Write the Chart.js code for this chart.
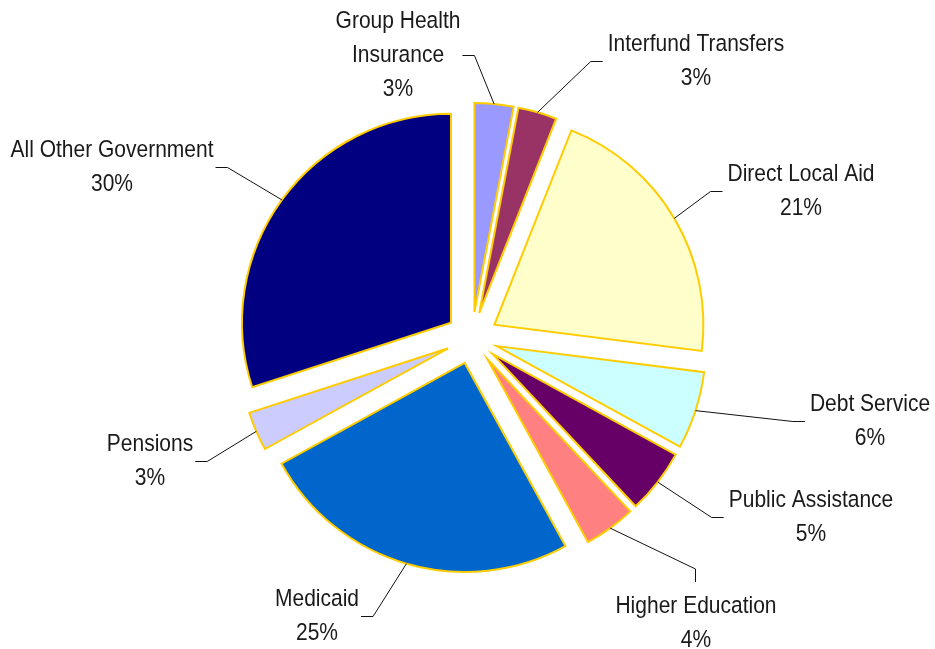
<!DOCTYPE html>
<html>
<head>
<meta charset="utf-8">
<title>Spending by category</title>
<script src="https://cdn.jsdelivr.net/npm/chart.js@4"></script>
<style>
  html, body { margin: 0; padding: 0; background: #fff; }
  canvas { display: block; }
</style>
</head>
<body>
<canvas id="spendingPie" width="935" height="649"></canvas>
<script>
// categories clockwise from 12 o'clock
const categories = [
  'Group Health Insurance', 'Interfund Transfers', 'Direct Local Aid',
  'Debt Service', 'Public Assistance', 'Higher Education',
  'Medicaid', 'Pensions', 'All Other Government'
];
const labelLines = [
  ['Group Health', 'Insurance'], ['Interfund Transfers'], ['Direct Local Aid'],
  ['Debt Service'], ['Public Assistance'], ['Higher Education'],
  ['Medicaid'], ['Pensions'], ['All Other Government']
];
const shares = [3, 3, 21, 6, 5, 4, 25, 3, 30];

const sliceColors = [
  '#9999FF', '#993366', '#FFFFCC', '#CCFFFF', '#660066',
  '#FF8080', '#0066CC', '#CCCCFF', '#000080'
];

// label block centre + which side the leader line comes in from
const labelSpots = [
  [398, 55, 'right'],
  [696, 61, 'left'],
  [801, 191, 'left'],
  [870, 421, 'left'],
  [811, 517, 'left'],
  [696, 623, 'top'],
  [317, 616, 'right'],
  [150, 461, 'right'],
  [112, 167, 'right']
];

const EXPLODE = 26;
const LINE_H = 34;
const TEXT_STRETCH = 1.12; // original labels are a bit taller than Liberation Sans

// push every slice out along its mid angle (same distance for all, like Excel)
const explodePlugin = {
  id: 'explode',
  afterUpdate(chart) {
    chart.getDatasetMeta(0).data.forEach(arc => {
      const mid = (arc.startAngle + arc.endAngle) / 2;
      arc.x += Math.cos(mid) * EXPLODE;
      arc.y += Math.sin(mid) * EXPLODE;
    });
  }
};

const labelPlugin = {
  id: 'sliceLabels',
  afterDatasetsDraw(chart) {
    const ctx = chart.ctx;
    const arcs = chart.getDatasetMeta(0).data;
    ctx.save();
    ctx.font = '21px "Liberation Sans", Arial, sans-serif';
    ctx.fillStyle = '#1a1a1a';
    ctx.strokeStyle = '#111';
    ctx.lineWidth = 1;
    ctx.textAlign = 'center';
    ctx.textBaseline = 'alphabetic';

    arcs.forEach((arc, i) => {
      const lines = labelLines[i].concat(shares[i] + '%');
      const [cx, cy, side] = labelSpots[i];
      const mid = (arc.startAngle + arc.endAngle) / 2;
      const ax = arc.x + Math.cos(mid) * arc.outerRadius;
      const ay = arc.y + Math.sin(mid) * arc.outerRadius;
      const w = Math.max(...lines.map(t => ctx.measureText(t).width));
      const firstBase = cy + 7 - (lines.length - 1) * LINE_H / 2;

      let elbow, tickEnd;
      if (side === 'left') {
        elbow = [cx - w / 2 - 17, cy + 0.5];
        tickEnd = [cx - w / 2 - 5, cy + 0.5];
      } else if (side === 'right') {
        elbow = [cx + w / 2 + 14, cy + 0.5];
        tickEnd = [cx + w / 2 + 2, cy + 0.5];
      } else {
        const top = firstBase - 17;
        elbow = [cx - 0.5, top - 27];
        tickEnd = [cx - 0.5, top - 14];
      }

      ctx.beginPath();
      ctx.moveTo(ax, ay);
      ctx.lineTo(elbow[0], elbow[1]);
      ctx.lineTo(tickEnd[0], tickEnd[1]);
      ctx.stroke();

      lines.forEach((t, k) => {
        ctx.save();
        ctx.translate(cx, firstBase + k * LINE_H);
        ctx.scale(1, TEXT_STRETCH);
        ctx.fillText(t, 0, 0);
        ctx.restore();
      });
    });
    ctx.restore();
  }
};

new Chart(document.getElementById('spendingPie'), {
  type: 'pie',
  data: {
    labels: categories,
    datasets: [{
      data: shares,
      backgroundColor: sliceColors,
      borderColor: '#FFCC00',
      borderWidth: 2,
      borderJoinStyle: 'miter'
    }]
  },
  options: {
    responsive: false,
    animation: false,
    radius: 209,
    rotation: 0,
    layout: { padding: { left: 9, top: 27, right: 0, bottom: 0 } },
    plugins: {
      legend: { display: false },
      tooltip: { enabled: false }
    }
  },
  plugins: [explodePlugin, labelPlugin]
});
</script>
</body>
</html>
